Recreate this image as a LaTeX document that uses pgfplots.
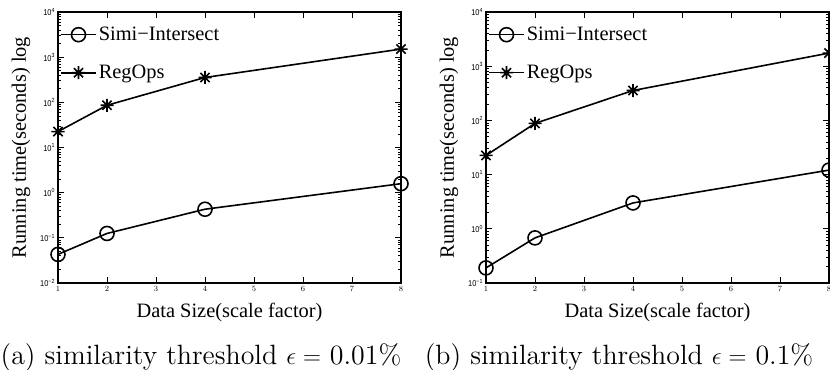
\documentclass[border=0pt]{standalone}
\usepackage{fontspec}
\usepackage{pgfplots}
\pgfplotsset{compat=1.18}

\newfontfamily\timesf{Liberation Serif}
\newfontfamily\helvf[FakeStretch=0.88]{Liberation Sans}
\newfontfamily\capfont{lmroman12-regular.otf}
% power-of-ten tick label with a small raised exponent
\newcommand{\ex}[1]{10\raisebox{3.6bp}{\fontsize{6}{6}\selectfont #1}}

% eight-spoked star marker
\pgfdeclareplotmark{mstar}{%
  \pgfpathmoveto{\pgfqpoint{-\pgfplotmarksize}{0pt}}%
  \pgfpathlineto{\pgfqpoint{\pgfplotmarksize}{0pt}}%
  \pgfpathmoveto{\pgfqpoint{0pt}{-\pgfplotmarksize}}%
  \pgfpathlineto{\pgfqpoint{0pt}{\pgfplotmarksize}}%
  \pgfpathmoveto{\pgfqpoint{-.707\pgfplotmarksize}{-.707\pgfplotmarksize}}%
  \pgfpathlineto{\pgfqpoint{.707\pgfplotmarksize}{.707\pgfplotmarksize}}%
  \pgfpathmoveto{\pgfqpoint{-.707\pgfplotmarksize}{.707\pgfplotmarksize}}%
  \pgfpathlineto{\pgfqpoint{.707\pgfplotmarksize}{-.707\pgfplotmarksize}}%
  \pgfusepathqstroke}

\pgfplotsset{
  runplot/.style={
    scale only axis, width=343bp, height=271bp,
    xmin=1, xmax=8, xtick={1,...,8},
    axis line style={line width=1.3bp},
    every tick/.style={black, line width=0.7bp},
    major tick length=6bp, minor tick length=3bp,
    tick align=inside,
    tick label style={font=\helvf\fontsize{8.5}{9}\selectfont},
    xlabel={Data Size(scale factor)},
    ylabel={Running time(seconds) log},
    label style={font=\timesf\fontsize{20.5}{22}\selectfont},
    xlabel style={at={(axis description cs:0.5,-0.129)}, anchor=base},
    ylabel style={at={(axis description cs:-0.108,0.5)}, anchor=center},
    legend cell align=left,
    legend style={at={(axis description cs:0,1)}, anchor=north west,
      xshift=2bp, yshift=-13bp, draw=none, fill=none, inner sep=0pt,
      font=\timesf\fontsize{20.5}{22}\selectfont, row sep=19bp},
    % legend sample: a line with the marker at its middle
    legend image code/.code={%
      \draw[line width=1.6bp] (0bp,0bp) -- (35bp,0bp);
      \draw[line width=1.6bp] plot coordinates {(17.5bp,0bp)};},
  },
  simi/.style={black, line width=1.6bp, mark=o, mark size=7bp, mark options={solid, fill=white}},
  regops/.style={black, line width=1.6bp, mark=mstar, mark size=6.5bp},
}

\begin{document}
\begin{tikzpicture}
\useasboundingbox (0,0) rectangle (830bp,370bp);

% (a) epsilon = 0.01%
\begin{axis}[ymode=log, runplot, at={(58bp,87bp)}, anchor=south west,
    ymin=1e-2, ymax=1e4,
    ytick={1e-2,1e-1,1e0,1e1,1e2,1e3,1e4},
    yticklabels={\ex{−2},\ex{−1},\ex{0},\ex{1},\ex{2},\ex{3},\ex{4}}]
\addplot[simi] coordinates {(1,0.043) (2,0.125) (4,0.43) (8,1.58)};
\addlegendentry{Simi−Intersect}
\addplot[regops] coordinates {(1,22.5) (2,86) (4,355) (8,1510)};
\addlegendentry{RegOps}
\end{axis}

% (b) epsilon = 0.1%
\begin{axis}[ymode=log, runplot, at={(486bp,87bp)}, anchor=south west,
    ymin=1e-1, ymax=1e4,
    ytick={1e-1,1e0,1e1,1e2,1e3,1e4},
    yticklabels={\ex{−1},\ex{0},\ex{1},\ex{2},\ex{3},\ex{4}}]
\addplot[simi] coordinates {(1,0.19) (2,0.68) (4,3.0) (8,12.1)};
\addlegendentry{Simi−Intersect}
\addplot[regops] coordinates {(1,22.6) (2,88) (4,356) (8,1745)};
\addlegendentry{RegOps}
\end{axis}

\node[anchor=base, font=\capfont\fontsize{28}{30}\selectfont] at (201bp,6bp)
  {(a) similarity threshold $\epsilon = $ 0.01\%};
\node[anchor=base, font=\capfont\fontsize{28}{30}\selectfont] at (619bp,6bp)
  {(b) similarity threshold $\epsilon = $ 0.1\%};
\end{tikzpicture}
\end{document}
